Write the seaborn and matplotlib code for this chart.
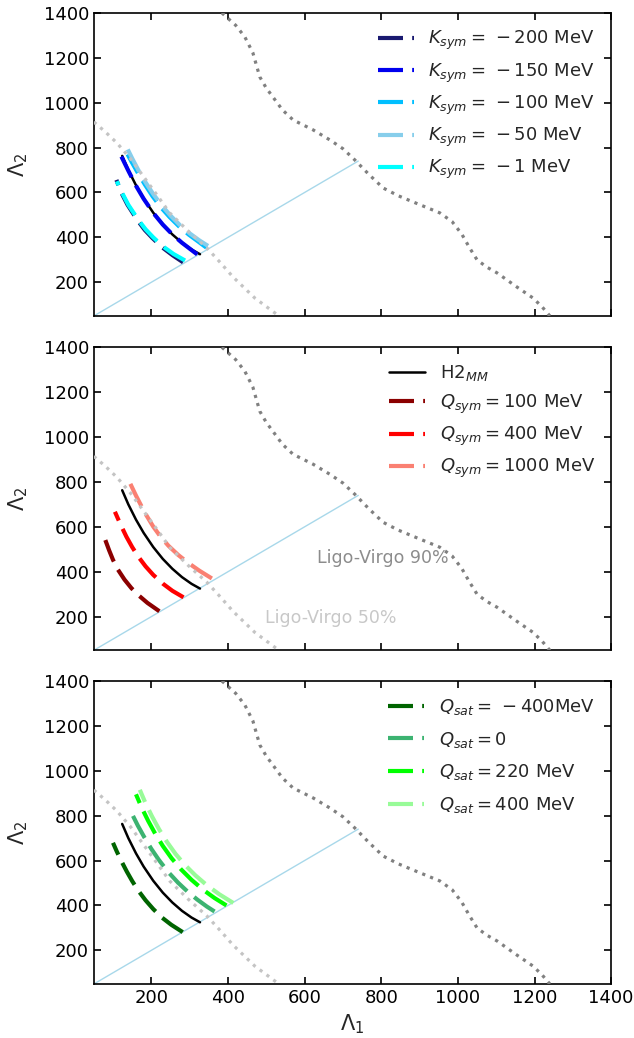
import numpy as np
import pandas as pd
import matplotlib
matplotlib.use("Agg")
import matplotlib.pyplot as plt
from matplotlib.lines import Line2D
import seaborn as sns

# ---------------- data ----------------
# Ligo-Virgo contours
lv90_l1 = [384, 420, 444, 465, 483, 500, 517, 542, 570, 622, 666, 700, 731, 768, 805, 845, 883, 953, 985, 1010, 1030, 1050, 1075, 1102, 1154, 1196, 1220, 1240]
lv90_l2 = [1400, 1345, 1293, 1222, 1115, 1065, 1026, 968, 923, 879, 834, 795, 745, 680, 620, 585, 558, 509, 470, 415, 355, 300, 268, 242, 179, 130, 90, 50]
lv50_l1 = [50, 80, 110, 145, 180, 215, 248, 295, 345, 380, 413, 470, 533]
lv50_l2 = [914, 870, 821, 752, 670, 588, 509, 430, 353, 288, 224, 130, 50]
diag_l = [50, 740]

# H2_MM reference (ordered from the equal-mass end)
h2_l1 = [327, 305, 280, 255, 230, 205, 180, 160, 140, 124]
h2_l2 = [325, 346, 376, 413, 457, 510, 573, 632, 700, 763]

# Panel 1: K_sym
ksym_labels = [r"$K_{sym}=\,-200$ MeV", r"$K_{sym}=\,-150$ MeV", r"$K_{sym}=\,-100$ MeV",
               r"$K_{sym}=\,-50$ MeV", r"$K_{sym}=\,-1$ MeV"]
ksym_colors = ["#191970", "#0000ee", "#00bfff", "#87ceeb", "#00ffff"]
ksym_l1 = [[283, 256, 229, 203, 183, 164, 138, 120, 109],
           [320, 300, 280, 255, 230, 205, 180, 160, 140, 122],
           [344, 322, 298, 273, 248, 225, 203, 183, 164, 148, 138],
           [348, 325, 300, 275, 250, 227, 205, 185, 166, 150, 135],
           [288, 258, 231, 205, 185, 166, 140, 122, 110]]
ksym_l2 = [[289, 320, 355, 397, 433, 476, 545, 605, 656],
           [324, 350, 376, 413, 457, 509, 572, 630, 697, 760],
           [354, 382, 412, 448, 490, 534, 584, 636, 690, 738, 770],
           [362, 387, 418, 454, 497, 543, 593, 645, 700, 752, 804],
           [297, 326, 359, 400, 436, 478, 545, 604, 650]]

# Panel 2: Q_sym
qsym_labels = [r"$Q_{sym}=100$ MeV", r"$Q_{sym}=400$ MeV", r"$Q_{sym}=1000$ MeV"]
qsym_colors = ["#8b0000", "#ff0000", "#fa8072"]
qsym_l1 = [[221, 190, 166, 148, 130, 113, 100, 90, 80],
           [284, 255, 230, 205, 185, 166, 150, 135, 120, 105],
           [358, 325, 295, 270, 245, 225, 205, 183, 160, 141]]
qsym_l2 = [[224, 261, 296, 327, 365, 409, 453, 495, 541],
           [286, 315, 347, 386, 424, 467, 510, 556, 609, 667],
           [370, 405, 441, 475, 515, 554, 601, 663, 739, 807]]

# Panel 3: Q_sat
qsat_labels = [r"$Q_{sat}=\,-400$MeV", r"$Q_{sat}=0$", r"$Q_{sat}=220$ MeV", r"$Q_{sat}=400$ MeV"]
qsat_colors = ["#006400", "#3cb371", "#00ff00", "#98fb98"]
qsat_l1 = [[282, 252, 227, 205, 185, 166, 150, 136, 122, 110, 100],
           [365, 345, 320, 295, 270, 244, 220, 200, 182, 165, 148],
           [396, 365, 335, 305, 278, 253, 230, 210, 192, 175, 160],
           [414, 378, 345, 315, 288, 263, 240, 220, 202, 185, 170]]
qsat_l2 = [[281, 314, 347, 384, 423, 466, 509, 551, 597, 640, 679],
           [373, 395, 426, 461, 501, 549, 602, 652, 703, 755, 813],
           [400, 433, 470, 514, 560, 610, 665, 720, 776, 835, 895],
           [411, 449, 490, 534, 580, 630, 685, 740, 796, 855, 915]]

yticks = [200, 400, 600, 800, 1000, 1200, 1400]
xticks = [200, 400, 600, 800, 1000, 1200, 1400]

# ---------------- style ----------------
sns.set_theme(style="ticks")
plt.rcParams["font.family"] = ["DejaVu Sans"]
plt.rcParams["mathtext.fontset"] = "dejavusans"

DASH = [6, 2.2]
LW = 3.0

fig = plt.figure(figsize=(6.34, 10.38), dpi=100)
left, width, height = 0.148, 0.816, 0.292
bottoms = [0.6956, 0.3735, 0.052]
axes = [fig.add_axes([left, b, width, height]) for b in bottoms]


def line(ax, x, y, dashes=None, **kw):
    df = pd.DataFrame({"x": x, "y": y})
    sns.lineplot(data=df, x="x", y="y", sort=False, estimator=None, ax=ax, **kw)
    ln = ax.lines[-1]
    if dashes is not None:
        ln.set_dashes(dashes)
    return ln


def base(ax):
    line(ax, diag_l, diag_l, color="#a8d8ea", lw=1.0, zorder=1)


def contours(ax):
    line(ax, lv90_l1, lv90_l2, color="#808080", lw=2.3, ls=":", zorder=5)
    line(ax, lv50_l1, lv50_l2, color="#c4c4c4", lw=2.3, ls=":", zorder=5)


def dash_handle(c):
    h = Line2D([], [], color=c, lw=LW)
    h.set_dashes(DASH)
    return h


leg_kw = dict(loc="upper right", frameon=False, fontsize=13, handlelength=2.0)

# Panel 1
ax = axes[0]
base(ax)
line(ax, h2_l1, h2_l2, color="black", lw=1.8, zorder=2)
for i in [0, 4, 2, 3, 1]:
    line(ax, ksym_l1[i], ksym_l2[i], dashes=DASH, color=ksym_colors[i], lw=LW, zorder=3)
contours(ax)
ax.legend([dash_handle(c) for c in ksym_colors], ksym_labels, labelspacing=0.5, **leg_kw)

# Panel 2
ax = axes[1]
base(ax)
line(ax, h2_l1, h2_l2, color="black", lw=1.8, zorder=2)
for i in range(3):
    line(ax, qsym_l1[i], qsym_l2[i], dashes=DASH, color=qsym_colors[i], lw=LW, zorder=3)
contours(ax)
handles = [Line2D([], [], color="black", lw=1.8)] + [dash_handle(c) for c in qsym_colors]
ax.legend(handles, [r"H2$_{MM}$"] + qsym_labels, labelspacing=0.5, **leg_kw)
ax.text(632, 462, "Ligo-Virgo 90%", color="#8c8c8c", fontsize=12.5, va="center")
ax.text(496, 192, "Ligo-Virgo 50%", color="#c8c8c8", fontsize=12.5, va="center")

# Panel 3
ax = axes[2]
base(ax)
line(ax, h2_l1, h2_l2, color="black", lw=1.8, zorder=2)
for i in range(4):
    line(ax, qsat_l1[i], qsat_l2[i], dashes=DASH, color=qsat_colors[i], lw=LW, zorder=3)
contours(ax)
ax.legend([dash_handle(c) for c in qsat_colors], qsat_labels, labelspacing=0.7, **leg_kw)

for i, ax in enumerate(axes):
    ax.set_xlim(50, 1400)
    ax.set_ylim(50, 1400)
    ax.set_xticks(xticks)
    ax.set_yticks(yticks)
    ax.tick_params(direction="in", top=True, right=True, length=5, width=1.2,
                   labelsize=13, colors="black")
    for s in ax.spines.values():
        s.set_linewidth(1.2)
        s.set_color("black")
    ax.set_ylabel(r"$\Lambda_2$", fontsize=15, labelpad=10)
    if i < 2:
        ax.set_xticklabels([])
        ax.set_xlabel("")
    else:
        ax.set_xlabel(r"$\Lambda_1$", fontsize=15)

fig.savefig("out.png", dpi=100)
